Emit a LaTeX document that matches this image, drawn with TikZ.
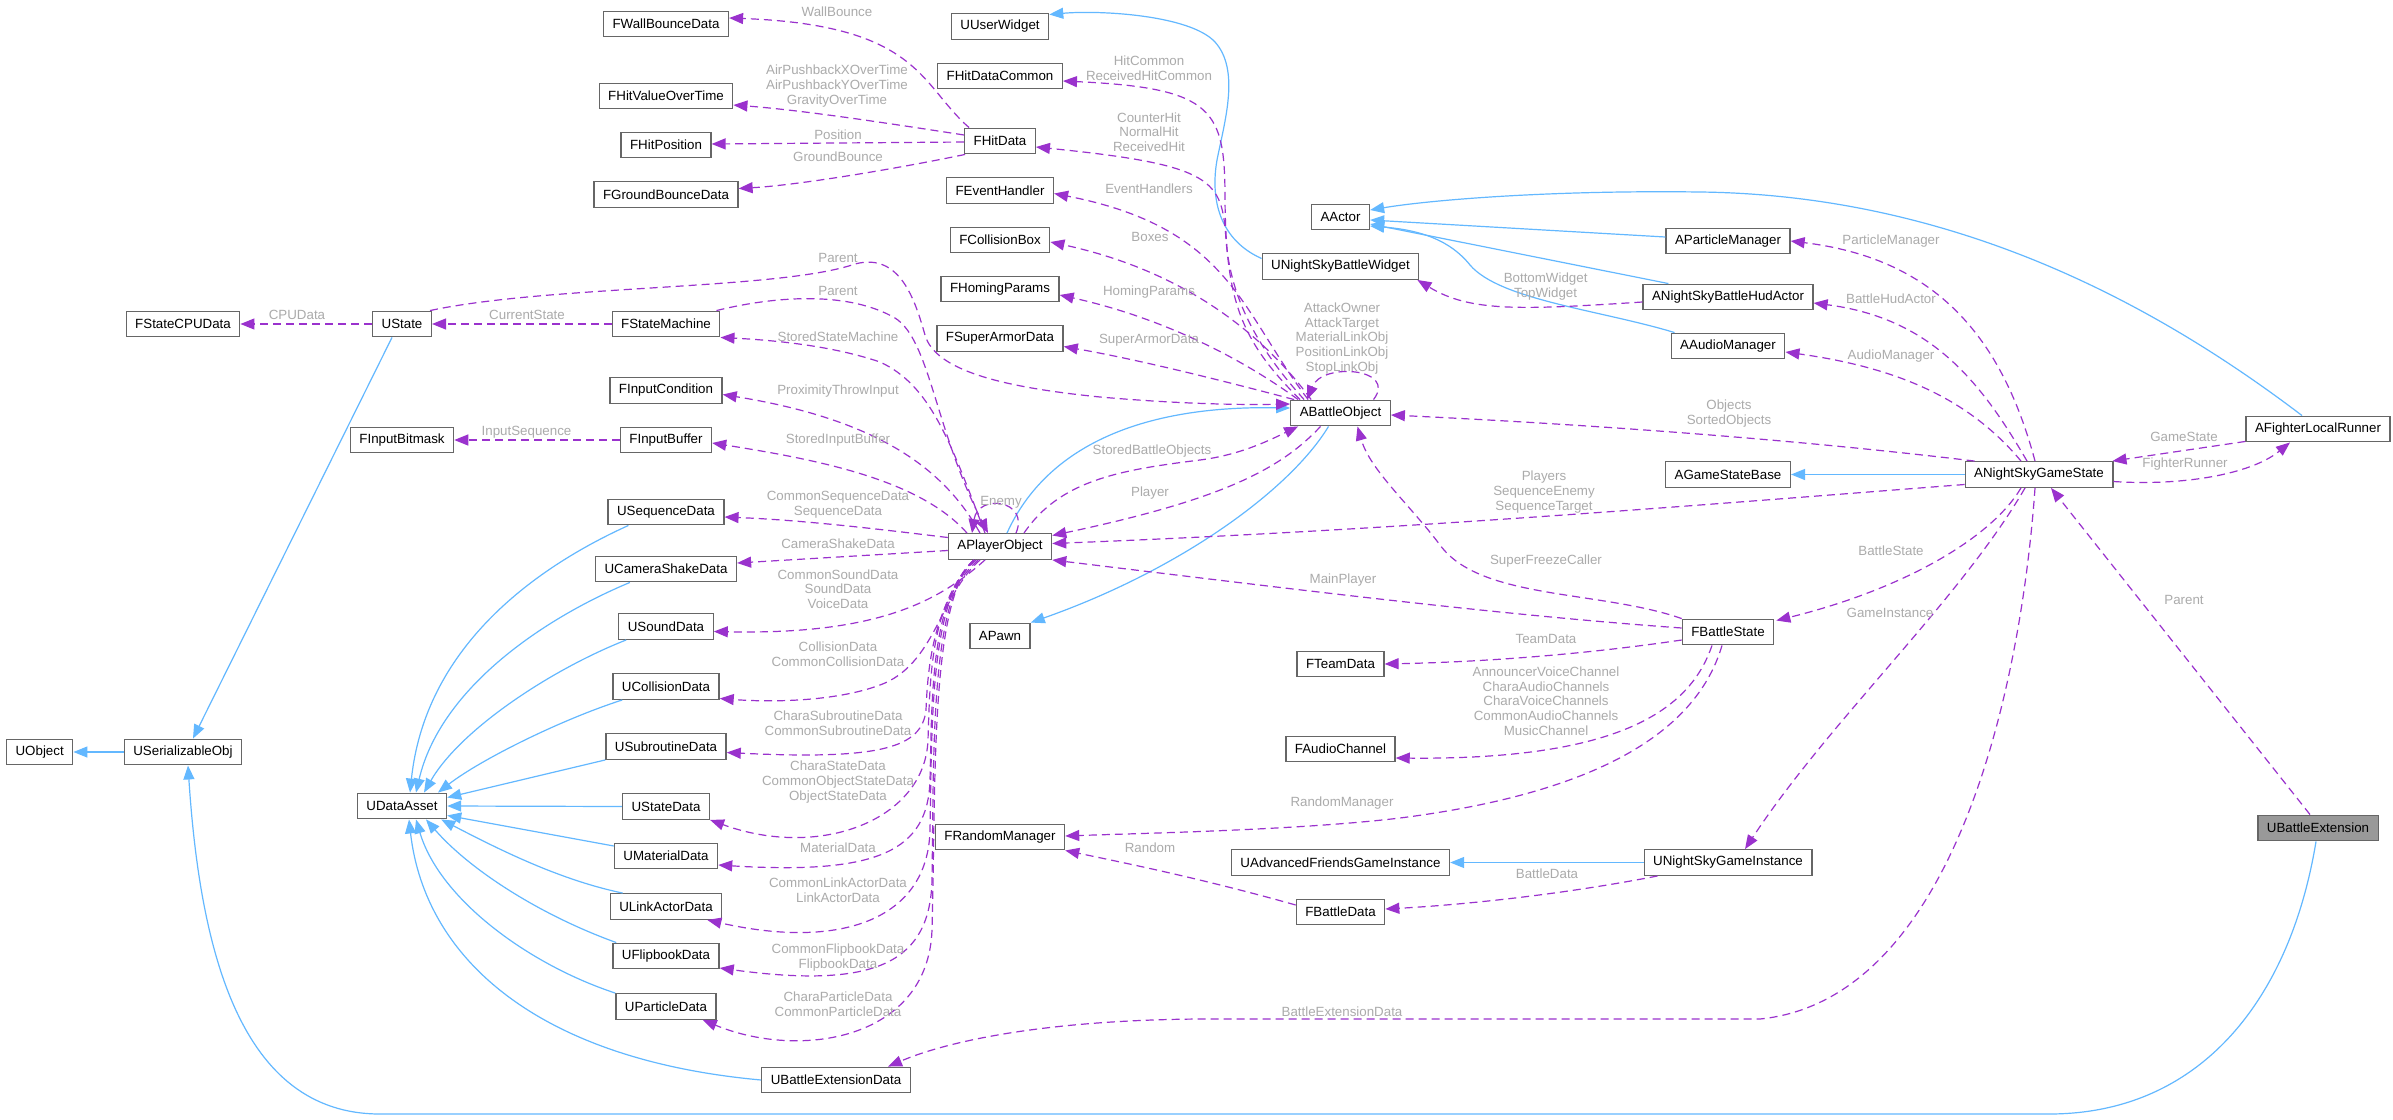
\documentclass[tikz,border=0pt]{standalone}
\usepackage{fontspec}
\setmainfont{Liberation Sans}
\usetikzlibrary{arrows.meta}
\definecolor{inhcol}{HTML}{63B8FF}
\definecolor{depcol}{HTML}{9A32CD}
\definecolor{lblcol}{HTML}{ABABAB}
\definecolor{boxcol}{HTML}{666666}
\definecolor{rootfill}{HTML}{999999}
\newcommand\dxfont{\fontsize{13.33}{14.75}\selectfont}
\tikzset{
  box/.style={draw=boxcol, fill=white, line width=1.3pt, font=\dxfont, inner xsep=9pt, inner ysep=0pt, minimum height=25.6pt, text=black},
  rootbox/.style={box, fill=rootfill},
  inh/.style={draw=inhcol, line width=1.2pt, -{Triangle[length=14pt,width=11pt]}},
  dep/.style={draw=depcol, line width=1.2pt, dash pattern=on 8pt off 5pt, -{Triangle[length=14pt,width=11pt]}},
  elabel/.style={text=lblcol, font=\dxfont, align=center, inner sep=0pt},
}
\begin{document}
\begin{tikzpicture}[x=1pt,y=-1pt]
\fill[white] (0,0) rectangle (2393,1119);
\path[use as bounding box] (0,0) rectangle (2393,1119);

% ---------- nodes ----------
\node[box] (uobj) at (39.7,752) {UObject};
\node[box] (userial) at (183,752) {USerializableObj};
\node[box] (fstatecpu) at (183,324) {FStateCPUData};
\node[box] (ustate) at (402,324) {UState};
\node[box] (finbitmask) at (402,440) {FInputBitmask};
\node[box] (udata) at (402,806) {UDataAsset};

\node[box] (fwall) at (666,24) {FWallBounceData};
\node[box] (fhvot) at (666,96) {FHitValueOverTime};
\node[box] (fhpos) at (666,145) {FHitPosition};
\node[box] (fground) at (666,194.5) {FGroundBounceData};
\node[box] (fsm) at (666,324) {FStateMachine};
\node[box] (fincond) at (666,390.5) {FInputCondition};
\node[box] (finbuf) at (666,440) {FInputBuffer};
\node[box] (useq) at (666,512) {USequenceData};
\node[box] (ucam) at (666,569) {UCameraShakeData};
\node[box] (usound) at (666,626.5) {USoundData};
\node[box] (ucoll) at (666,686.5) {UCollisionData};
\node[box] (usub) at (666,746.5) {USubroutineData};
\node[box] (ustatedata) at (666,806.5) {UStateData};
\node[box] (umat) at (666,856) {UMaterialData};
\node[box] (ulink) at (666,906.5) {ULinkActorData};
\node[box] (uflip) at (666,956) {UFlipbookData};
\node[box] (upart) at (666,1006.5) {UParticleData};
\node[box] (ubed) at (836,1080) {UBattleExtensionData};

\node[box] (uuser) at (1000,26.5) {UUserWidget};
\node[box] (fhdc) at (1000,76) {FHitDataCommon};
\node[box] (fhit) at (1000,141) {FHitData};
\node[box] (fevent) at (1000,190.5) {FEventHandler};
\node[box] (fcbox) at (1000,240) {FCollisionBox};
\node[box] (fhoming) at (1000,289) {FHomingParams};
\node[box] (fsuper) at (1000,338.5) {FSuperArmorData};
\node[box] (apo) at (1000,546.5) {APlayerObject};
\node[box] (apawn) at (1000,636) {APawn};
\node[box] (frand) at (1000,837) {FRandomManager};

\node[box] (aactor) at (1340.5,217) {AActor};
\node[box] (unsbw) at (1340.5,266.5) {UNightSkyBattleWidget};
\node[box] (abo) at (1340.5,413) {ABattleObject};
\node[box] (fteam) at (1340.5,664) {FTeamData};
\node[box] (faudio) at (1340.5,749) {FAudioChannel};
\node[box] (uafgi) at (1340.5,862.5) {UAdvancedFriendsGameInstance};
\node[box] (fbdata) at (1340.5,912) {FBattleData};

\node[box] (apm) at (1728,241) {AParticleManager};
\node[box] (ahud) at (1728,297) {ANightSkyBattleHudActor};
\node[box] (aaudio) at (1728,346) {AAudioManager};
\node[box] (agsb) at (1728,474.5) {AGameStateBase};
\node[box] (fbs) at (1728,632) {FBattleState};
\node[box] (unsgi) at (1728,862.5) {UNightSkyGameInstance};

\node[box] (angs) at (2039,474.5) {ANightSkyGameState};
\node[box] (aflr) at (2318,429) {AFighterLocalRunner};
\node[rootbox] (ube) at (2318,828) {UBattleExtension};

% ---------- inheritance ----------
\draw[inh] (userial.west) -- (uobj.east);
\draw[inh] ([shift={(-10,0)}]ustate.south) -- ([shift={(10,0)}]userial.north);
\draw[inh] ([shift={(-2,0)}]ube.south) .. controls (2290,1000) and (2200,1114) .. (2049,1114) -- (380,1114) .. controls (240,1114) and (200,950) .. ([shift={(5,0)}]userial.south);

\draw[inh] ([shift={(21,0)}]useq.south west) .. controls (530,570) and (425,650) .. ([shift={(8,0)}]udata.north);
\draw[inh] ([shift={(35,0)}]ucam.south west) .. controls (540,620) and (440,690) .. ([shift={(14,0)}]udata.north);
\draw[inh] ([shift={(8,0)}]usound.south west) .. controls (550,670) and (460,730) .. ([shift={(22,0)}]udata.north);
\draw[inh] ([shift={(10,0)}]ucoll.south west) .. controls (560,720) and (480,760) .. ([shift={(36,0)}]udata.north);
\draw[inh] (usub.south west) -- ([shift={(0,5)}]udata.north east);
\draw[inh] (ustatedata.west) -- (udata.east);
\draw[inh] ([shift={(0,-10)}]umat.west) -- ([shift={(0,-4)}]udata.south east);
\draw[inh] ([shift={(13,0)}]ulink.north west) .. controls (560,880) and (500,850) .. ([shift={(-6,0)}]udata.south east);
\draw[inh] ([shift={(4,0)}]uflip.north west) .. controls (540,915) and (470,870) .. ([shift={(24,0)}]udata.south);
\draw[inh] (upart.north west) .. controls (530,965) and (440,900) .. ([shift={(14,0)}]udata.south);
\draw[inh] (ubed.west) .. controls (540,1060) and (425,960) .. ([shift={(7,0)}]udata.south);

\draw[inh] ([shift={(0,-8)}]unsbw.west) .. controls (1220,240) and (1210,200) .. (1217,160) .. controls (1225,120) and (1240,70) .. (1215,42) .. controls (1190,15) and (1100,10) .. ([shift={(0,-12)}]uuser.east);

\draw[inh] ([shift={(-16,0)}]aflr.north) .. controls (2150,300) and (1950,195) .. (1700,192) .. controls (1550,190) and (1430,200) .. ([shift={(0,-7)}]aactor.east);
\draw[inh] ([shift={(0,-4)}]apm.west) -- ([shift={(0,3)}]aactor.east);
\draw[inh] ([shift={(26,0)}]ahud.north west) -- ([shift={(0,7)}]aactor.east);
\draw[inh] ([shift={(4,0)}]aaudio.north west) .. controls (1600,310) and (1500,300) .. (1470,265) .. controls (1450,240) and (1420,230) .. ([shift={(0,9)}]aactor.east);

\draw[inh] (angs.west) -- (agsb.east);
\draw[inh] (unsgi.west) -- (uafgi.east);
\draw[inh] ([shift={(7,0)}]apo.north) .. controls (1040,460) and (1120,405) .. ([shift={(0,-5)}]abo.west);
\draw[inh] ([shift={(-12,0)}]abo.south) .. controls (1290,490) and (1180,570) .. (apawn.north east);

% ---------- usage ----------
\draw[dep] ([shift={(5,0)}]fhit.north west) .. controls (920,85) and (920,25) .. ([shift={(0,-6)}]fwall.east);
\draw[dep] ([shift={(0,-6)}]fhit.west) .. controls (880,122) and (800,110) .. ([shift={(0,9)}]fhvot.east);
\draw[dep] ([shift={(0,1)}]fhit.west) -- ([shift={(0,-1)}]fhpos.east);
\draw[dep] ([shift={(1,0)}]fhit.south west) .. controls (900,168) and (800,185) .. ([shift={(0,-6)}]fground.east);

\draw[dep] ([shift={(10,0)}]abo.north west) .. controls (1240,340) and (1226,300) .. (1225,200) .. controls (1225,110) and (1215,88) .. ([shift={(0,5)}]fhdc.east);
\draw[dep] ([shift={(14,0)}]abo.north west) .. controls (1250,340) and (1230,290) .. (1226,240) .. controls (1222,180) and (1215,165) .. ([shift={(0,6)}]fhit.east);
\draw[dep] ([shift={(18,0)}]abo.north west) .. controls (1240,310) and (1230,228) .. ([shift={(0,3)}]fevent.east);
\draw[dep] ([shift={(21,0)}]abo.north west) .. controls (1260,330) and (1180,270) .. ([shift={(0,2)}]fcbox.east);
\draw[dep] ([shift={(8,0)}]abo.north west) .. controls (1230,350) and (1150,315) .. ([shift={(0,6)}]fhoming.east);
\draw[dep] ([shift={(4,0)}]abo.north west) .. controls (1220,380) and (1140,360) .. ([shift={(0,8)}]fsuper.east);
\draw[dep] ([shift={(33,0)}]abo.north) .. controls (1398,368) and (1322,362) .. ([shift={(17,0)}]abo.north west);

\draw[dep] ([shift={(-2,0)}]ustate.north east) .. controls (550,285) and (780,290) .. (855,264) .. controls (900,252) and (915,300) .. (925,335) .. controls (935,370) and (1000,387) .. (1100,397) .. controls (1180,404) and (1240,405) .. ([shift={(0,-9)}]abo.west);
\draw[dep] ([shift={(-4,0)}]fsm.north east) .. controls (780,295) and (850,292) .. (895,318) .. controls (930,340) and (935,430) .. ([shift={(-12,0)}]apo.north);
\draw[dep] ([shift={(-15,0)}]apo.north) .. controls (950,440) and (930,385) .. (880,362) .. controls (830,345) and (770,340) .. (fsm.south east);
\draw[dep] ([shift={(-20,0)}]apo.north) .. controls (945,470) and (880,420) .. ([shift={(0,4)}]fincond.east);
\draw[dep] ([shift={(-33,0)}]apo.north) .. controls (920,480) and (820,460) .. ([shift={(0,3)}]finbuf.east);
\draw[dep] (finbuf.west) -- (finbitmask.east);
\draw[dep] (fsm.west) -- (ustate.east);
\draw[dep] (ustate.west) -- (fstatecpu.east);

\draw[dep] ([shift={(0,-9)}]apo.west) .. controls (870,528) and (800,520) .. ([shift={(0,5)}]useq.east);
\draw[dep] ([shift={(0,4)}]apo.west) -- ([shift={(0,-6)}]ucam.east);
\draw[dep] ([shift={(-15,0)}]apo.south) .. controls (940,600) and (880,635) .. ([shift={(0,5)}]usound.east);
\draw[dep] ([shift={(-20,0)}]apo.south) .. controls (940,595) and (935,665) .. (880,685) .. controls (840,700) and (780,703) .. ([shift={(0,12)}]ucoll.east);
\draw[dep] ([shift={(-22,0)}]apo.south) .. controls (935,600) and (928,660) .. (926,710) .. controls (922,748) and (880,760) .. ([shift={(0,6)}]usub.east);
\draw[dep] ([shift={(-24,0)}]apo.south) .. controls (930,600) and (930,680) .. (928,740) .. controls (925,820) and (820,860) .. (ustatedata.south east);
\draw[dep] ([shift={(-26,0)}]apo.south) .. controls (930,600) and (932,700) .. (930,780) .. controls (928,850) and (880,875) .. ([shift={(0,9)}]umat.east);
\draw[dep] ([shift={(-26,0)}]apo.south) .. controls (930,600) and (932,720) .. (930,830) .. controls (928,920) and (840,950) .. ([shift={(-15,0)}]ulink.south east);
\draw[dep] ([shift={(-26,0)}]apo.south) .. controls (930,600) and (934,750) .. (932,880) .. controls (930,960) and (880,990) .. ([shift={(0,12)}]uflip.east);
\draw[dep] ([shift={(-26,0)}]apo.south) .. controls (930,600) and (936,780) .. (932,930) .. controls (928,1040) and (800,1060) .. ([shift={(-14,0)}]upart.south east);

\draw[dep] ([shift={(16,0)}]apo.north) .. controls (1030,500) and (978,493) .. ([shift={(-28,0)}]apo.north);
\draw[dep] ([shift={(24,0)}]apo.north) .. controls (1060,480) and (1120,470) .. (1200,460) .. controls (1240,455) and (1270,440) .. ([shift={(8,0)}]abo.south west);
\draw[dep] ([shift={(-20,0)}]abo.south) .. controls (1280,470) and (1220,500) .. ([shift={(0,-11)}]apo.east);
\draw[dep] ([shift={(0,10)}]angs.west) .. controls (1700,505) and (1400,530) .. ([shift={(0,-3)}]apo.east);
\draw[dep] ([shift={(0,-4)}]fbs.west) .. controls (1500,615) and (1300,590) .. (apo.south east);
\draw[dep] (fbs.north west) .. controls (1600,590) and (1480,600) .. (1440,545) .. controls (1410,505) and (1370,470) .. ([shift={(17,0)}]abo.south);
\draw[dep] ([shift={(10,0)}]angs.north west) .. controls (1800,440) and (1600,425) .. ([shift={(0,2)}]abo.east);

\draw[dep] ([shift={(-4,0)}]angs.north) .. controls (2000,330) and (1930,258) .. (apm.east);
\draw[dep] ([shift={(-12,0)}]angs.north) .. controls (1980,380) and (1930,318) .. ([shift={(0,6)}]ahud.east);
\draw[dep] ([shift={(-18,0)}]angs.north) .. controls (1970,400) and (1900,368) .. ([shift={(0,6)}]aaudio.east);
\draw[dep] ([shift={(0,-1)}]aflr.south west) -- ([shift={(-1,0)}]angs.north east);
\draw[dep] ([shift={(0,7)}]angs.east) .. controls (2180,486) and (2250,475) .. ([shift={(-28,0)}]aflr.south);
\draw[dep] ([shift={(-18,0)}]angs.south) .. controls (1990,540) and (1900,590) .. ([shift={(2,2)}]fbs.north east);
\draw[dep] ([shift={(-14,0)}]angs.south) .. controls (1960,600) and (1830,720) .. ([shift={(17,0)}]unsgi.north);
\draw[dep] ([shift={(-4,0)}]angs.south) .. controls (2020,700) and (1950,1000) .. (1760,1019) -- (1200,1019) .. controls (1050,1020) and (950,1040) .. ([shift={(52,0)}]ubed.north);
\draw[dep] ([shift={(-8,0)}]ube.north) -- ([shift={(12,0)}]angs.south);
\draw[dep] ([shift={(0,5)}]ahud.west) .. controls (1520,310) and (1470,312) .. ([shift={(-2,0)}]unsbw.south east);

\draw[dep] ([shift={(0,8)}]fbs.west) .. controls (1580,655) and (1480,662) .. (fteam.east);
\draw[dep] ([shift={(-16,0)}]fbs.south) .. controls (1690,710) and (1620,760) .. ([shift={(0,9)}]faudio.east);
\draw[dep] ([shift={(-6,0)}]fbs.south) .. controls (1700,720) and (1620,790) .. (1400,818) .. controls (1300,830) and (1150,833) .. ([shift={(0,-1)}]frand.east);
\draw[dep] ([shift={(0,-7)}]fbdata.west) .. controls (1200,878) and (1120,862) .. (frand.south east);
\draw[dep] ([shift={(14,0)}]unsgi.south west) .. controls (1560,895) and (1460,905) .. ([shift={(0,-3)}]fbdata.east);

% ---------- labels ----------
\node[elabel] (lb1) at (837,12) {WallBounce};
\node[elabel] (lb2) at (837,86) {AirPushbackXOverTime\\AirPushbackYOverTime\\GravityOverTime};
\node[elabel] (lb3) at (838,135) {Position};
\node[elabel] (lb4) at (838,157) {GroundBounce};
\node[elabel] (lb5) at (1149,68.5) {HitCommon\\ReceivedHitCommon};
\node[elabel] (lb6) at (1149,132) {CounterHit\\NormalHit\\ReceivedHit};
\node[elabel] (lb7) at (1149,189) {EventHandlers};
\node[elabel] (lb8) at (1150,237) {Boxes};
\node[elabel] (lb9) at (1149,292) {HomingParams};
\node[elabel] (lb10) at (1149,340) {SuperArmorData};
\node[elabel] (lb11) at (838,258) {Parent};
\node[elabel] (lb12) at (838,291) {Parent};
\node[elabel] (lb13) at (838,337) {StoredStateMachine};
\node[elabel] (lb14) at (297,315) {CPUData};
\node[elabel] (lb15) at (527,315) {CurrentState};
\node[elabel] (lb16) at (526.5,432) {InputSequence};
\node[elabel] (lb17) at (838,391) {ProximityThrowInput};
\node[elabel] (lb18) at (838,440) {StoredInputBuffer};
\node[elabel] (lb19) at (838,504.5) {CommonSequenceData\\SequenceData};
\node[elabel] (lb20) at (1001,502) {Enemy};
\node[elabel] (lb21) at (838,544) {CameraShakeData};
\node[elabel] (lb22) at (838,589) {CommonSoundData\\SoundData\\VoiceData};
\node[elabel] (lb23) at (838,654) {CollisionData\\CommonCollisionData};
\node[elabel] (lb24) at (838,723) {CharaSubroutineData\\CommonSubroutineData};
\node[elabel] (lb25) at (1152,451) {StoredBattleObjects};
\node[elabel] (lb26) at (1150,493) {Player};
\node[elabel] (lb27) at (838,782) {CharaStateData\\CommonObjectStateData\\ObjectStateData};
\node[elabel] (lb28) at (838,848) {MaterialData};
\node[elabel] (lb29) at (838,890.5) {CommonLinkActorData\\LinkActorData};
\node[elabel] (lb30) at (838,957.5) {CommonFlipbookData\\FlipbookData};
\node[elabel] (lb31) at (838,1004.5) {CharaParticleData\\CommonParticleData};
\node[elabel] (lb32) at (1150,848) {Random};
\node[elabel] (lb33) at (1545.6,286.5) {BottomWidget\\TopWidget};
\node[elabel] (lb34) at (1342,338.5) {AttackOwner\\AttackTarget\\MaterialLinkObj\\PositionLinkObj\\StopLinkObj};
\node[elabel] (lb35) at (1729,413.5) {Objects\\SortedObjects};
\node[elabel] (lb36) at (1544,492) {Players\\SequenceEnemy\\SequenceTarget};
\node[elabel] (lb37) at (1546,561) {SuperFreezeCaller};
\node[elabel] (lb38) at (1343,580) {MainPlayer};
\node[elabel] (lb39) at (1546,639) {TeamData};
\node[elabel] (lb40) at (1546,701) {AnnouncerVoiceChannel\\CharaAudioChannels\\CharaVoiceChannels\\CommonAudioChannels\\MusicChannel};
\node[elabel] (lb41) at (1342,803) {RandomManager};
\node[elabel] (lb42) at (1547,874) {BattleData};
\node[elabel] (lb43) at (1342,1012) {BattleExtensionData};
\node[elabel] (lb44) at (1891,241) {ParticleManager};
\node[elabel] (lb45) at (1891,299) {BattleHudActor};
\node[elabel] (lb46) at (1891,356) {AudioManager};
\node[elabel] (lb47) at (2184,437) {GameState};
\node[elabel] (lb48) at (2185,464) {FighterRunner};
\node[elabel] (lb49) at (1891,551) {BattleState};
\node[elabel] (lb50) at (1890,613) {GameInstance};
\node[elabel] (lb51) at (2184,600) {Parent};
\end{tikzpicture}
\end{document}
